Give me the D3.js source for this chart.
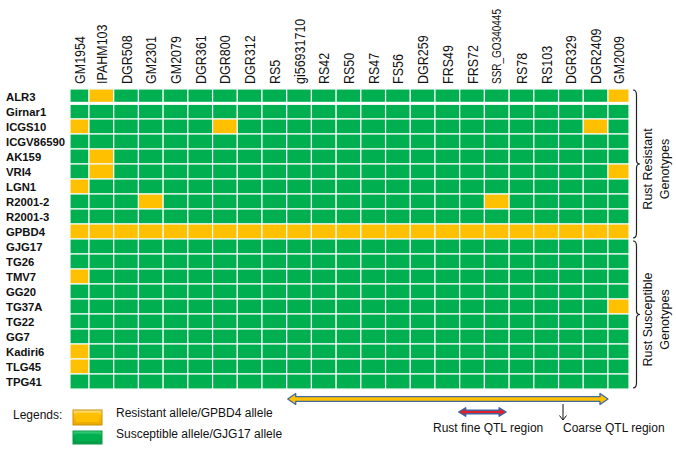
<!DOCTYPE html>
<html><head><meta charset="utf-8">
<script src="https://cdn.jsdelivr.net/npm/d3@7"></script>
<style>
body{margin:0;background:#fff}
svg{display:block;font-family:"Liberation Sans",Arial,sans-serif}
</style>
</head><body>
<svg id="c" width="676" height="453"></svg>
<script>
// ---- data ----
const markers = ["GM1954","IPAHM103","DGR508","GM2301","GM2079","DGR361","DGR800","DGR312",
  "RS5","gi56931710","RS42","RS50","RS47","FS56","DGR259","FRS49","FRS72","SSR_GO340445",
  "RS78","RS103","DGR329","DGR2409","GM2009"];
const resistantGenotypes = ["ALR3","Girnar1","ICGS10","ICGV86590","AK159","VRI4","LGN1","R2001-2","R2001-3","GPBD4"];
const susceptibleGenotypes = ["GJG17","TG26","TMV7","GG20","TG37A","TG22","GG7","Kadiri6","TLG45","TPG41"];
const genotypes = resistantGenotypes.concat(susceptibleGenotypes);
const donorGenotype = "GPBD4"; // carries the resistant allele at every marker
// [genotype, marker] cells carrying the resistant (GPBD4) allele
const resistantCalls = [
  ["ALR3","IPAHM103"],["ALR3","GM2009"],
  ["ICGS10","GM1954"],["ICGS10","DGR800"],["ICGS10","DGR2409"],
  ["AK159","IPAHM103"],
  ["VRI4","IPAHM103"],["VRI4","GM2009"],
  ["LGN1","GM1954"],
  ["R2001-2","GM2301"],["R2001-2","SSR_GO340445"],
  ["TMV7","GM1954"],["TG37A","GM2009"],["Kadiri6","GM1954"],["TLG45","GM1954"]
];
const coarseRegion = ["gi56931710","DGR2409"];
const fineRegion = ["FRS72","SSR_GO340445"];
const groupLabels = [["Rust Resistant","Genotypes"],["Rust Susceptible","Genotypes"]];
const legendItems = ["Resistant allele/GPBD4 allele","Susceptible allele/GJG17 allele"];

// ---- drawing ----
const YEL = "#FFC000", GRN = "#00B050";
const svg = d3.select("#c");
const gridL = 70, gridR = 629;
const x = d3.scaleBand().domain(markers).range([64.3, 632.7]);
const y = d3.scaleBand().domain(genotypes).range([89, 389]);
const cx0 = m => Math.max(x(m), gridL);
const cx1 = m => Math.min(x(m) + x.bandwidth(), gridR);
const isR = new Set(resistantCalls.map(d => d[0] + "|" + d[1]));

const cells = [];
genotypes.forEach(g => markers.forEach(m => cells.push({g, m,
  r: g === donorGenotype || isR.has(g + "|" + m)})));

svg.append("g").selectAll("rect").data(cells).join("rect")
  .attr("x", d => cx0(d.m)).attr("y", d => y(d.g))
  .attr("width", d => cx1(d.m) - cx0(d.m)).attr("height", y.bandwidth())
  .attr("fill", d => d.r ? YEL : GRN)
  .attr("stroke", "#f4fbf6").attr("stroke-width", 1.2);

// thicker gap below first row
svg.append("rect").attr("x", gridL - 1).attr("y", y(genotypes[1]) - 2.2)
  .attr("width", gridR - gridL + 2).attr("height", 3).attr("fill", "#fff");

// column labels
svg.append("g").selectAll("text").data(markers).join("text")
  .attr("transform", m => `translate(${(cx0(m) + cx1(m)) / 2},84) rotate(-90) scale(1,1.22)`)
  .attr("dy", "0.36em")
  .attr("font-size", m => m.startsWith("SSR") ? 10 : 12.5)
  .attr("fill", "#111")
  .text(d => d);

// row labels
svg.append("g").selectAll("text").data(genotypes).join("text")
  .attr("x", 6).attr("y", g => y(g) + y.bandwidth() / 2)
  .attr("dy", "0.36em").attr("font-size", 11.3).attr("font-weight", "bold")
  .attr("fill", "#111").text(d => d);

// braces
function brace(x0, y1, y2) {
  const ym = (y1 + y2) / 2, w = 7, h = w / 2;
  return `M${x0},${y1} Q${x0 + h},${y1} ${x0 + h},${y1 + 5} L${x0 + h},${ym - 4} Q${x0 + h},${ym} ${x0 + w},${ym}
    Q${x0 + h},${ym} ${x0 + h},${ym + 4} L${x0 + h},${y2 - 5} Q${x0 + h},${y2} ${x0},${y2}`;
}
const groups = [resistantGenotypes, susceptibleGenotypes];
groups.forEach((grp, i) => {
  const y1 = y(grp[0]) + (i === 0 ? 1 : 2), y2 = y(grp[grp.length - 1]) + y.bandwidth() - 1;
  svg.append("path").attr("d", brace(633, y1, y2)).attr("fill", "none")
    .attr("stroke", "#222").attr("stroke-width", 1.2);
  const ym = (y1 + y2) / 2 + 5;
  groupLabels[i].forEach((t, j) => {
    svg.append("text").attr("transform", `translate(${647 + j * 17},${ym}) rotate(-90)`)
      .attr("text-anchor", "middle").attr("dy", "0.36em").attr("font-size", 12.5)
      .attr("fill", "#111").text(t);
  });
});

// double-headed arrows
function dblArrow(xa, xb, yc, sh, hh, hl) {
  return `M${xa},${yc} L${xa + hl},${yc - hh} L${xa + hl},${yc - sh} L${xb - hl},${yc - sh} L${xb - hl},${yc - hh}
    L${xb},${yc} L${xb - hl},${yc + hh} L${xb - hl},${yc + sh} L${xa + hl},${yc + sh} L${xa + hl},${yc + hh} Z`;
}
svg.append("path")
  .attr("d", dblArrow(x(coarseRegion[0]) + 1, x(coarseRegion[1]) + x.bandwidth(), 399, 2.3, 5.5, 8))
  .attr("fill", YEL).attr("stroke", "#41699C").attr("stroke-width", 1.3).attr("stroke-linejoin", "round");
svg.append("path")
  .attr("d", dblArrow(x(fineRegion[0]) - 1, x(fineRegion[1]) + x.bandwidth() - 3, 412, 1.8, 4.2, 7))
  .attr("fill", "#E3202A").attr("stroke", "#3F64A0").attr("stroke-width", 1.4).attr("stroke-linejoin", "round");

// down arrow
svg.append("line").attr("x1", 563).attr("x2", 563).attr("y1", 404).attr("y2", 419.5)
  .attr("stroke", "#111").attr("stroke-width", 1);
svg.append("path").attr("d", "M559.5,415.5 L563,420 L566.5,415.5").attr("fill", "none")
  .attr("stroke", "#111").attr("stroke-width", 1);

svg.append("text").attr("x", 433).attr("y", 432).attr("font-size", 12).attr("fill", "#111")
  .text("Rust fine QTL region");
svg.append("text").attr("x", 563).attr("y", 432).attr("font-size", 12).attr("fill", "#111")
  .text("Coarse QTL region");

// legend
const defs = svg.append("defs");
[["gy", "#FFE08A", YEL, "#E8A800"], ["gg", "#3FD080", GRN, "#009A44"]].forEach(([id, a, b, c]) => {
  const lg = defs.append("linearGradient").attr("id", id).attr("x1", 0).attr("y1", 0).attr("x2", 0).attr("y2", 1);
  lg.append("stop").attr("offset", "0%").attr("stop-color", a);
  lg.append("stop").attr("offset", "35%").attr("stop-color", b);
  lg.append("stop").attr("offset", "100%").attr("stop-color", c);
});
svg.append("text").attr("x", 13).attr("y", 419).attr("font-size", 12).attr("fill", "#111").text("Legends:");
const legY = [410, 431];
legendItems.forEach((t, i) => {
  svg.append("rect").attr("x", 73).attr("y", legY[i]).attr("width", 29).attr("height", i ? 13 : 15)
    .attr("fill", `url(#${i ? "gg" : "gy"})`).attr("stroke", i ? "#0A9A4A" : "#C8900A").attr("stroke-width", 1);
  svg.append("rect").attr("x", 76).attr("y", legY[i] + 3).attr("width", 23).attr("height", i ? 7 : 9)
    .attr("fill", i ? GRN : YEL).attr("opacity", 0.9);
  svg.append("text").attr("x", 116).attr("y", legY[i] + 7).attr("font-size", 12)
    .attr("fill", "#111").text(t);
});
</script>
</body></html>
